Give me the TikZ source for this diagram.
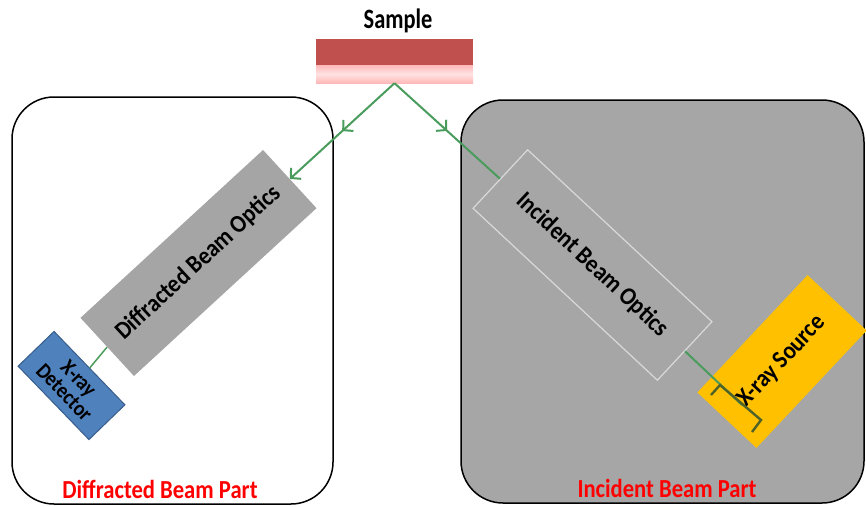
\documentclass[tikz,border=0pt]{standalone}
\usepackage{fontspec}
\setmainfont{Carlito}
\usetikzlibrary{arrows.meta,decorations.markings}
\definecolor{beamgreen}{HTML}{4A9C5D}
\definecolor{bracketgreen}{HTML}{4F6228}
\definecolor{panelgray}{HTML}{A6A6A6}
\definecolor{optgray}{HTML}{A5A5A5}
\definecolor{optedge}{HTML}{D9D9D9}
\definecolor{sampdark}{HTML}{C0504D}
\definecolor{samppink}{HTML}{FFB8B8}
\definecolor{samplight}{HTML}{FFE2E2}
\definecolor{detblue}{HTML}{4F81BD}
\definecolor{detedge}{HTML}{385D8A}
\definecolor{srcyellow}{HTML}{FFC000}
\definecolor{partred}{HTML}{FF0000}
\newcommand{\narrowtxt}[2][0.87]{\scalebox{#1}[1]{#2}}
\tikzset{
  panel/.style={draw=black, line width=1.5pt, rounded corners=42pt},
  optbox/.style={inner sep=0pt, align=center, text=black},
  beamline/.style={draw=beamgreen, line width=2pt},
  midarrow/.style={postaction={decorate}, decoration={markings,
     mark=at position 0.5 with {\arrow[beamgreen,line width=2pt]{Straight Barb[length=7pt,width=15pt]}}}},
  bracketline/.style={draw=bracketgreen, line width=2.4pt},
  partlabel/.style={text=partred, inner sep=0pt, font=\bfseries\fontsize{26}{26}\selectfont}
}
\begin{document}
\begin{tikzpicture}[x=1pt,y=-1pt, font=\bfseries\fontsize{25}{25}\selectfont]
\useasboundingbox (0,0) rectangle (866,506);
% panels
\draw[panel, fill=panelgray] (461,100) rectangle (864,503);
\draw[panel, fill=white] (12,97) rectangle (333,504);
% sample
\node[inner sep=0pt] (samplelabel) at (398,21) {\fontsize{28}{28}\selectfont\narrowtxt[0.8]{Sample}};
\node[fill=sampdark, minimum width=157, minimum height=26, inner sep=0pt] (samptop) at (394.5,52) {};
\node[top color=samppink, bottom color=samppink, middle color=samplight, minimum width=157, minimum height=18, inner sep=0pt] (sampbot) at (394.5,74) {};
\coordinate (apex) at (sampbot.south);
% optics
\node[optbox, fill=optgray, minimum width=248, minimum height=79, rotate=42.6] (dopt) at (198.5,263) {\narrowtxt[0.9]{Diffracted Beam Optics}};
\node[optbox, fill=panelgray, draw=optedge, line width=1.2pt, minimum width=252, minimum height=80, rotate=-43] (iopt) at (592.5,265) {\narrowtxt[0.9]{Incident Beam Optics}};
% detector and source
\node[optbox, fill=detblue, draw=detedge, line width=1pt, minimum width=102, minimum height=50, rotate=-46, font=\bfseries\fontsize{22}{20}\selectfont] (det) at (71.5,385.5) {\narrowtxt[0.88]{X-ray}\\\narrowtxt[0.88]{Detector}};
\node[optbox, fill=srcyellow, minimum width=161, minimum height=81, rotate=46.8] (src) at (782,361.5) {\narrowtxt[0.9]{X-ray Source}};
% beams
\coordinate (beamend) at (742,405);
\draw[beamline, midarrow] (apex) -- (iopt.west);
\draw[beamline, midarrow, -{Straight Barb[length=7pt,width=15pt]}] (apex) -- (dopt.east);
\draw[beamline] (iopt.east) -- (beamend);
\draw[beamline, line width=1.5pt] (det.north) -- (dopt.west);
% filament bracket
\coordinate (b1) at (711,395);
\coordinate (b2) at (720,385);
\coordinate (b3) at (761,420);
\coordinate (b4) at (752,432);
\draw[bracketline] (b1) -- (b2) -- (b3) -- (b4);
% part labels
\node[partlabel] (dpart) at (160,489) {\narrowtxt{Diffracted Beam Part}};
\node[partlabel] (ipart) at (667,488) {\narrowtxt{Incident Beam Part}};
\end{tikzpicture}
\end{document}
